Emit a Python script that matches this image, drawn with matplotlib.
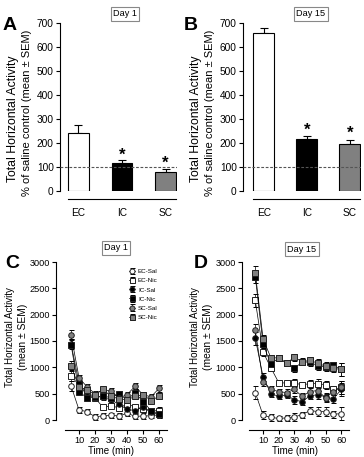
import numpy as np
import matplotlib.pyplot as plt

plt.rcParams.update({'font.family': ['Liberation Sans', 'DejaVu Sans'], 'font.size': 7.3,
                     'axes.linewidth': 0.8, 'xtick.major.width': 0.8, 'ytick.major.width': 0.8,
                     'xtick.major.size': 3, 'ytick.major.size': 3})

# ---------- bar data (% of saline control) ----------
groups = ['EC', 'IC', 'SC']
bar_colors = ['white', 'black', '#808080']
day1_pct = [243, 117, 80]
day1_sem = [30, 13, 10]
day15_pct = [660, 215, 195]
day15_sem = [20, 15, 17]
day1_star = [None, 150, 117]
day15_star = [None, 254, 242]

# ---------- time course data ----------
time = [5, 10, 15, 20, 25, 30, 35, 40, 45, 50, 55, 60]
series_names = ['EC-Sal', 'EC-Nic', 'IC-Sal', 'IC-Nic', 'SC-Sal', 'SC-Nic']
d1_ec_sal = [650, 190, 160, 60, 80, 90, 75, 130, 70, 75, 80, 100]
d1_ec_nic = [840, 660, 540, 420, 240, 270, 230, 300, 250, 210, 170, 180]
d1_ic_sal = [1450, 700, 450, 450, 430, 380, 300, 200, 180, 250, 150, 100]
d1_ic_nic = [1430, 540, 420, 430, 460, 420, 500, 380, 520, 350, 180, 120]
d1_sc_sal = [1620, 800, 630, 500, 570, 550, 420, 480, 640, 480, 440, 600]
d1_sc_nic = [1030, 620, 570, 480, 580, 450, 400, 380, 450, 480, 370, 450]
d15_ec_sal = [520, 90, 50, 30, 40, 60, 100, 180, 160, 160, 110, 120]
d15_ec_nic = [2270, 1290, 990, 710, 700, 700, 670, 690, 690, 670, 580, 620]
d15_ic_sal = [1550, 820, 500, 450, 480, 380, 350, 460, 480, 440, 400, 580]
d15_ic_nic = [2720, 1440, 1060, 1180, 1080, 980, 1100, 1100, 1030, 1010, 1040, 960]
d15_sc_sal = [1700, 730, 580, 540, 520, 580, 450, 540, 560, 420, 540, 620]
d15_sc_nic = [2800, 1540, 1180, 1180, 1080, 1190, 1110, 1130, 1080, 1020, 980, 960]
sem_d1 = [90, 60, 50, 60, 50, 50, 60, 60, 60, 50, 50, 60]
sem_d15 = [120, 80, 60, 50, 60, 70, 60, 70, 80, 80, 70, 120]

styles = [('o', 'white'), ('s', 'white'), ('o', 'black'), ('s', 'black'),
          ('o', '#808080'), ('s', '#808080')]

W, H = 364, 457
fig = plt.figure(figsize=(W / 100, H / 100), dpi=100)


def px_axes(x0, y0, x1, y1):
    return fig.add_axes([x0 / W, 1 - y1 / H, (x1 - x0) / W, (y1 - y0) / H])


def ftext(x, y, s, **kw):
    return fig.text(x / W, 1 - y / H, s, ha='center', va='center', **kw)


def bar_panel(ax, vals, sems, stars, xl):
    x = np.arange(3)
    ax.errorbar(x, vals, yerr=[[0, 0, 0], sems], fmt='none', ecolor='black',
                elinewidth=0.8, capsize=3, capthick=0.8, zorder=1)
    ax.bar(x, vals, width=0.48, color=bar_colors, edgecolor='black', linewidth=0.8, zorder=2)
    ax.axhline(100, color='#555555', ls='--', lw=0.8, dashes=(2.5, 1.5), zorder=3)
    for xi, s in zip(x, stars):
        if s is not None:
            ax.text(xi, s, '*', ha='center', va='center', fontsize=12, fontweight='bold')
    ax.set_xlim(xl, 2.26)
    ax.set_ylim(0, 700)
    ax.set_yticks(range(0, 701, 100))
    ax.set_xticks(x)
    ax.set_xticklabels(groups, fontsize=6.8)
    ax.tick_params(axis='x', length=0, pad=6)
    ax.tick_params(axis='y', pad=1.5)
    for s in ['top', 'right']:
        ax.spines[s].set_visible(False)
    ax.spines['bottom'].set_position(('outward', 6))
    ax.spines['bottom'].set_bounds(-0.24, 2.24)


def line_panel(ax, data, sem, xl):
    for (m, fc), name, y in zip(styles, series_names, data):
        ax.errorbar(time, y, yerr=sem, fmt='-', marker=m, color='black', mfc=fc, mec='#222222',
                    ms=4, mew=0.7, lw=0.5, elinewidth=0.5, capsize=1.8, ecolor='black',
                    label=name, clip_on=False)
    ax.set_xlim(xl, 65)
    ax.set_ylim(0, 3000)
    ax.set_yticks(range(0, 3001, 500))
    ax.set_xticks(range(10, 61, 10))
    ax.tick_params(labelsize=6.6, pad=1.5)
    for s in ['top', 'right']:
        ax.spines[s].set_visible(False)
    ax.spines['bottom'].set_position(('outward', 7))
    ax.spines['bottom'].set_bounds(1, 65)
    ax.set_xlabel('Time (min)', fontsize=7, labelpad=1)


box = dict(boxstyle='square,pad=0.25', fc='white', ec='#888888', lw=0.8)

axA = px_axes(60, 23, 177, 191)
bar_panel(axA, day1_pct, day1_sem, day1_star, -0.42)
axB = px_axes(243, 23, 361, 191)
bar_panel(axB, day15_pct, day15_sem, day15_star, -0.48)

axC = px_axes(56, 262, 167, 420)
line_panel(axC, [d1_ec_sal, d1_ec_nic, d1_ic_sal, d1_ic_nic, d1_sc_sal, d1_sc_nic], sem_d1, -4.4)
axC.legend(loc='upper left', bbox_to_anchor=(0.62, 0.98), frameon=False, fontsize=4.5,
           handlelength=1.0, handletextpad=0.5, labelspacing=0.6, borderpad=0.1,
           markerscale=0.9)
axD = px_axes(242, 262, 349, 420)
line_panel(axD, [d15_ec_sal, d15_ec_nic, d15_ic_sal, d15_ic_nic, d15_sc_sal, d15_sc_nic], sem_d15, -3.5)

# y axis titles
for x0 in (0, 183):
    ftext(x0 + 13, 119, 'Total Horizontal Activity', fontsize=8.8, rotation=90)
    ftext(x0 + 27, 113, '% of saline control (mean ± SEM)', fontsize=8, rotation=90)
for x0 in (0, 185):
    ftext(x0 + 10, 337, 'Total Horizontal Activity', fontsize=7, rotation=90)
    ftext(x0 + 23, 337, '(mean ± SEM)', fontsize=7.4, rotation=90)

ftext(125, 14, 'Day 1', fontsize=6.6, bbox=box)
ftext(311, 14, 'Day 15', fontsize=6.6, bbox=box)
ftext(116, 248, 'Day 1', fontsize=6.6, bbox=box)
ftext(302, 249, 'Day 15', fontsize=6.6, bbox=box)

for lab, x, y in [('A', 10, 25), ('B', 191, 25), ('C', 12, 263), ('D', 201, 263)]:
    ftext(x, y, lab, fontsize=14, fontweight='bold')

fig.savefig('out.png', dpi=100)
